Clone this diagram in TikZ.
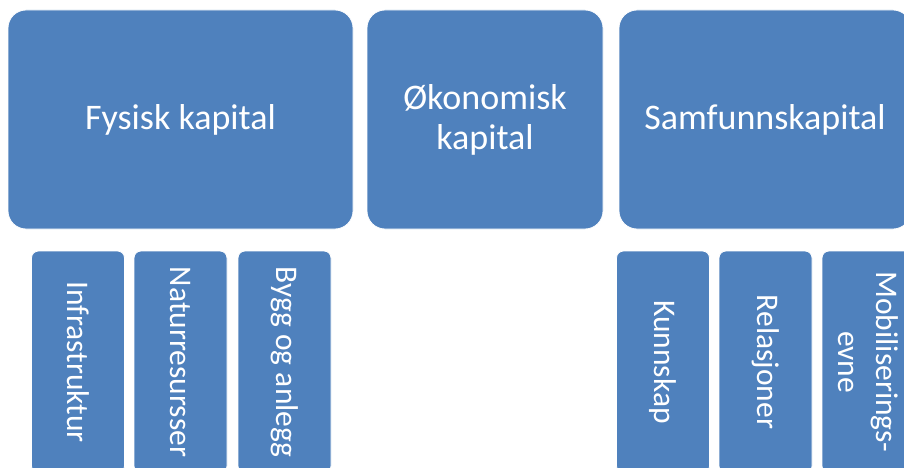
\documentclass[tikz,border=0pt]{standalone}
\usepackage{fontspec}
\setmainfont{Carlito}
\definecolor{boxblue}{HTML}{4F81BD}
\tikzset{
  bigbox/.style={fill=boxblue, draw=white, line width=0.8pt, rounded corners=18pt, text=white,
    minimum height=219pt, inner sep=0pt, align=center,
    font=\fontsize{36}{40}\selectfont},
  smallbox/.style={fill=boxblue, draw=white, line width=0.8pt, rounded corners=7pt, text=white,
    rotate=-90, minimum width=222pt, minimum height=93pt, inner sep=0pt, align=center,
    font=\fontsize{31.5}{38}\selectfont}
}
\begin{document}
\begin{tikzpicture}[x=1pt,y=-1pt]
\useasboundingbox (0,0) rectangle (904,468);
\clip (0,0) rectangle (904,468);
\node[bigbox, minimum width=345pt] (fysisk) at (180.5,119.5) {Fysisk kapital};
\node[bigbox, minimum width=236pt] (okonomisk) at (485,119.5) {Økonomisk\\kapital};
\node[bigbox, minimum width=292pt] (samfunn) at (765,119.5) {Samfunnskapital};
\node[smallbox] (infra) at (78,362) {Infrastruktur};
\node[smallbox] (natur) at (180.5,362) {Naturresursser};
\node[smallbox] (bygg) at (284.5,362) {Bygg og anlegg};
\node[smallbox] (kunn) at (663,362) {Kunnskap};
\node[smallbox] (rel) at (765.5,362) {Relasjoner};
\node[smallbox] (mob) at (868.5,362) {Mobiliserings-\\evne};
\end{tikzpicture}
\end{document}
